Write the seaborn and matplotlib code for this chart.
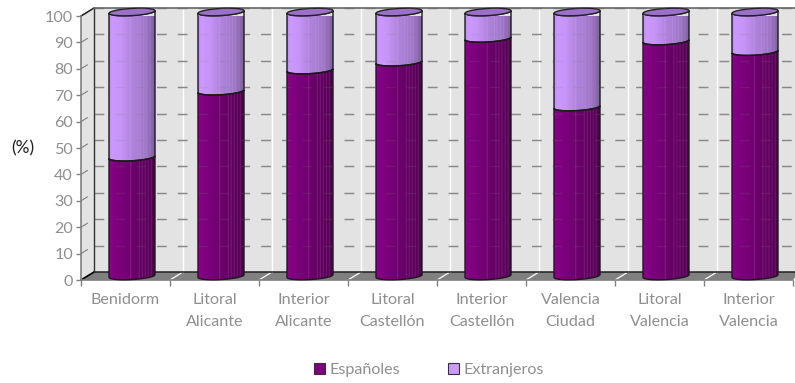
import numpy as np
import pandas as pd
import matplotlib
matplotlib.use("Agg")
import matplotlib.pyplot as plt
from matplotlib.patches import Polygon, Patch
from matplotlib.colors import to_rgb
import seaborn as sns

categories = ["Benidorm", "Litoral\nAlicante", "Interior\nAlicante", "Litoral\nCastellón",
              "Interior\nCastellón", "Valencia\nCiudad", "Litoral\nValencia", "Interior\nValencia"]
espanoles = [45, 70, 78, 81, 90, 64, 89, 85]
extranjeros = [55, 30, 22, 19, 10, 36, 11, 15]
series_names = ["Españoles", "Extranjeros"]
yticks = list(range(0, 101, 10))

DARK, LIGHT = "#800080", "#CC99FF"
TXT = "#8f8f8f"
FS = 11.6

sns.set_theme(style="white")
plt.rcParams["font.family"] = ["Lato", "DejaVu Sans"]

fig = plt.figure(figsize=(7.95, 3.83), dpi=100)
ax = fig.add_axes([81/795, 1-280/383, 712/795, 264/383])

DX = 13/89      # depth in category units
DY = 8/2.64     # depth in percent units
pos = np.arange(len(categories)) + DX/2
df = pd.DataFrame({"pos": pos, "esp": espanoles,
                   "total": np.array(espanoles) + np.array(extranjeros)})

# walls and floor
XL, XR = -0.5, 7.5
wall = "#E3E3E3"
ax.add_patch(Polygon([(XL+DX, DY), (XR+DX, DY), (XR+DX, 100+DY), (XL+DX, 100+DY)],
                     fc=wall, ec="none", zorder=0, clip_on=False))
ax.add_patch(Polygon([(XL, 0), (XL+DX, DY), (XL+DX, 100+DY), (XL, 100)],
                     fc=wall, ec="none", zorder=0, clip_on=False))
ax.add_patch(Polygon([(XL, 0), (XR, 0), (XR+DX, DY), (XL+DX, DY)],
                     fc="#808080", ec="none", zorder=0.5, clip_on=False))
for i in range(1, 9):
    x = XL + i
    ax.plot([x+DX, x+DX], [DY, 100+DY], color="white", lw=1.0, zorder=0.6, clip_on=False)
    ax.plot([x, x+DX*0.9], [0, DY*0.9], color="white", lw=0.9, zorder=0.7, clip_on=False)
for v in yticks[1:]:
    ax.plot([XL+DX, XR+DX], [v+DY, v+DY], color="#8a8a8a", lw=1, dashes=(7, 8),
            zorder=0.8, clip_on=False)
    ax.plot([XL, XL+DX*0.5], [v, v+DY*0.5], color="#808080", lw=0.8, zorder=0.8, clip_on=False)
ax.plot([XL, XL+DX], [0, DY], color="black", lw=1.2, zorder=1, clip_on=False)
ax.plot([XL, XL+DX], [100, 100+DY], color="#222222", lw=1.1, zorder=1, clip_on=False)
ax.plot([XL+DX, XL+DX], [DY, 100+DY], color="#333333", lw=1, zorder=1, clip_on=False)
ax.plot([XL+DX, XR+DX], [DY, DY], color="#222222", lw=1.1, zorder=1, clip_on=False)
ax.plot([XL+DX, XR+DX], [100+DY, 100+DY], color="#666666", lw=1.2, zorder=1, clip_on=False)

# bars through seaborn: total first, Spanish part on top
W = 46/89
sns.barplot(data=df, x="pos", y="total", native_scale=True, width=W, color=LIGHT,
            saturation=1, ax=ax, zorder=2, legend=False)
sns.barplot(data=df, x="pos", y="esp", native_scale=True, width=W, color=DARK,
            saturation=1, ax=ax, zorder=2, legend=False)
bars = [p for p in ax.patches if p.get_zorder() == 2]
light_bars = bars[:len(bars)//2]
dark_bars = bars[len(bars)//2:]

def shade(base, kind):
    n = 92
    f = np.linspace(0, 1, n)
    if kind == "dark":
        s = np.interp(f, [0, .05, .12, .35, .55, .8, 1], [1.12, 1.05, 1.0, .92, .82, .72, .62])
        stripes = [.47, .66, .72, .79, .85, .92]
        gain = 0.20
    else:
        s = np.interp(f, [0, .06, .25, .5, .8, 1], [.92, 1.0, .97, .86, .78, .62])
        stripes = [.47, .62, .68, .75, .82, .9]
        gain = 0.07
    rgb = np.array(to_rgb(base))
    img = np.clip(s[:, None]*rgb[None, :], 0, 1)
    for st in stripes:
        k = int(st*n)
        img[k:k+1] = np.clip(img[k:k+1] + gain, 0, 1)
    return img[None, :, :]

H, TILT = 1.35, 0.5   # ellipse half height, tilt (percent units)
ts = np.linspace(np.pi, 2*np.pi, 50)

def arc(cx, hw, yc, t=ts):
    return np.c_[cx + hw*np.cos(t), yc + H*np.sin(t) + TILT*np.cos(t)]

def body(cx, hw, y0, y1, base, kind):
    pts = np.r_[arc(cx, hw, y0), arc(cx, hw, y1)[::-1]]
    poly = Polygon(pts, closed=True, fc="none", ec="#1a1a1a", lw=1.0, zorder=3.2, clip_on=False)
    ax.add_patch(poly)
    im = ax.imshow(shade(base, kind), extent=(cx-hw, cx+hw, y0-H-TILT, y1+H+TILT),
                   aspect="auto", zorder=3, interpolation="bilinear", origin="lower")
    im.set_clip_path(poly)
    return poly

for pl, pd_ in zip(light_bars, dark_bars):
    cx = pl.get_x() + pl.get_width()/2
    hw = pl.get_width()/2
    lo = DY/2
    top = pl.get_height() + DY/2
    mid = pd_.get_height() + DY/2
    for p, y0, y1 in ((pd_, lo, mid), (pl, mid, top)):
        p.set_y(y0); p.set_height(y1-y0); p.set_linewidth(0)
        p.set_alpha(0)
    body(cx, hw, mid, top, LIGHT, "light")
    body(cx, hw, lo, mid, DARK, "dark")
    t = np.linspace(0, 2*np.pi, 90)
    ax.add_patch(Polygon(arc(cx, hw, top, t), closed=True, fc="#9B70C8", ec="#222222",
                         lw=1.0, zorder=3.4, clip_on=False))

# faint see-through grid over the cylinders
for v in yticks[1:]:
    ax.plot([XL+DX, XR+DX], [v+DY, v+DY], color="#808080", lw=1, dashes=(7, 8),
            alpha=0.16, zorder=3.5, clip_on=False)

ax.set_xlim(XL, XR)
ax.set_ylim(0, 100)
ax.set_xlabel(""); ax.set_ylabel("")
sns.despine(ax=ax, top=True, right=True)
for s in ("left", "bottom"):
    ax.spines[s].set_color("#808080")
    ax.spines[s].set_linewidth(1.2)
    ax.spines[s].set_zorder(1.5)
ax.set_yticks(yticks)
ax.tick_params(axis="y", which="major", left=True, length=3.8, width=1, color="#808080",
               labelcolor=TXT, labelsize=FS, pad=2)
ax.set_xticks(np.arange(XL, XR+0.5, 1))
ax.set_xticklabels([])
ax.set_xticks(np.arange(len(categories)), labels=categories, minor=True)
ax.tick_params(axis="x", which="major", bottom=True, length=4, width=1, color="#808080")
ax.tick_params(axis="x", which="minor", bottom=False, length=0, labelcolor=TXT,
               labelsize=FS, pad=9.5)
for l in ax.get_xticklabels(minor=True):
    l.set_linespacing(1.7)
    l.set_verticalalignment("top")

fig.text(22.5/795, 1-148/383, "(%)", color="#222222", fontsize=12.5, ha="center", va="center")

handles = [Patch(fc=DARK, ec="#333333", lw=0.8), Patch(fc=LIGHT, ec="#333333", lw=0.8)]
fig.legend(handles, series_names, loc="center", bbox_to_anchor=(429/795, 1-370/383), ncol=2,
           frameon=False, fontsize=FS, labelcolor=TXT, handlelength=0.66, handleheight=0.7,
           handletextpad=0.3, columnspacing=3.0, borderpad=0, borderaxespad=0)

fig.savefig("out.png", dpi=100, facecolor="white")
